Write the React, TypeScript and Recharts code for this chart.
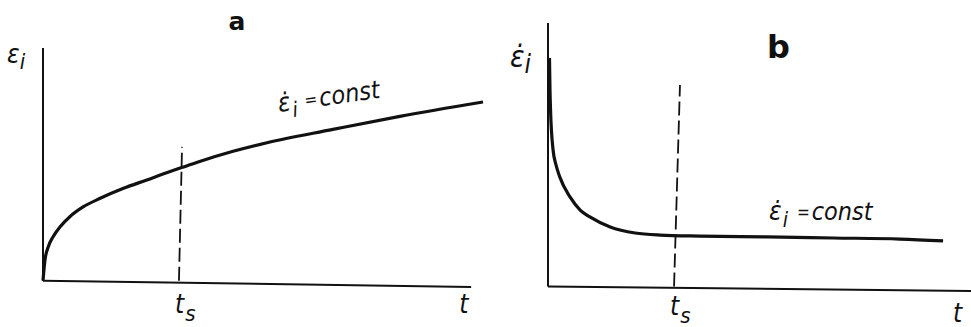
import { Line, LineChart, ReferenceLine, XAxis, YAxis } from 'recharts';

// Panel a: strain vs time (creep curve)
const A_TIME = [0, 0.45, 1.2, 2.3, 3.9, 6.1, 9.2, 13, 18.3, 23.6, 28.1, 31.5, 34.9, 43.2, 50.9, 65.9, 81.1, 100];
const A_STRAIN = [0, 8.9, 14.6, 18.9, 23.2, 27.5, 31.8, 35.4, 39.7, 43.3, 46.4, 48.6, 50.8, 55.6, 59.3, 65.0, 70.6, 76.8];

// Panel b: strain rate vs time
const B_TIME = [0.35, 0.47, 0.6, 1.2, 1.9, 2.8, 5.2, 7.6, 9.9, 14.7, 20.6, 26.5, 35.9, 51.8, 67.4, 83.2, 93.4];
const B_RATE = [86.7, 74.6, 67.0, 51.8, 46.1, 41.5, 34.0, 29.0, 26.4, 22.6, 20.3, 19.5, 19.1, 18.8, 18.4, 18.0, 17.3];

// tick positions on the time axis: t_s and t
const A_TICKS = [30.9, 95.5];
const B_TICKS = [29.8, 97.9];
const TICK_LABELS = ['ts', 't'];

// dashed t_s marker (bottom, top)
const A_TS_LINE = [{ x: 30.9, y: 0 }, { x: 31.6, y: 57.5 }];
const B_TS_LINE = [{ x: 29.8, y: 0 }, { x: 31.2, y: 76.5 }];

// axis ends (the scan is a little tilted)
const A_X_AXIS = [{ x: 0, y: 0 }, { x: 97.3, y: -2.7 }];
const B_X_AXIS = [{ x: 0, y: 0 }, { x: 100, y: -1.7 }];
const Y_AXIS = [{ x: 0, y: 0 }, { x: 0, y: 100 }];

const aData = A_TIME.map((t, i) => ({ t, v: A_STRAIN[i] }));
const bData = B_TIME.map((t, i) => ({ t, v: B_RATE[i] }));

const INK = '#111';
const MATH = "'DejaVu Sans Condensed', 'DejaVu Sans', sans-serif";
const TITLE = "'DejaVu Sans', sans-serif";

function makeTick(offsets: number[]) {
  return function TimeTick(props: any) {
    const { x, y, index } = props;
    const label = TICK_LABELS[index];
    return (
      <text x={x - 4} y={y + offsets[index]} fontFamily={MATH} fontStyle="italic" fontSize={26} fill={INK}>
        t
        {label === 'ts' && (
          <tspan dx={1} dy={8} fontSize={22}>
            s
          </tspan>
        )}
      </text>
    );
  };
}

const ATick = makeTick([15, 15]);
const BTick = makeTick([10, 17]);

function StrainLabel({ x, y, dot, size }: { x: number; y: number; dot: boolean; size: number }) {
  return (
    <text x={x} y={y} fontFamily={MATH} fontStyle="italic" fontSize={size} fill={INK}>
      {dot ? 'ε\u0307' : 'ε'}
      <tspan dy={6} fontSize={size - 4}>
        i
      </tspan>
    </text>
  );
}

function ConstLabel({ x, y, rotate, gap }: { x: number; y: number; rotate: number; gap: number }) {
  return (
    <text
      x={x}
      y={y}
      transform={`rotate(${rotate} ${x} ${y})`}
      fontFamily={MATH}
      fontStyle="italic"
      fontSize={26}
      fill={INK}
    >
      {'ε\u0307'}
      <tspan dx={1} dy={7} fontSize={21}>
        i
      </tspan>
      <tspan dx={gap} dy={-9} fontSize={17}>
        =
      </tspan>
      <tspan dx={2} dy={2} fontSize={25}>
        const
      </tspan>
    </text>
  );
}

export default function App() {
  return (
    <div style={{ position: 'absolute', left: 0, top: 0, width: 971, height: 327, background: '#fff' }}>
      <div style={{ position: 'absolute', left: 0, top: 0 }}>
        <LineChart width={490} height={327} data={aData} margin={{ top: 48, right: 7, bottom: 7, left: 43 }}>
          <XAxis
            type="number"
            dataKey="t"
            domain={[0, 100]}
            ticks={A_TICKS}
            height={30}
            axisLine={false}
            tickLine={false}
            tick={<ATick />}
          />
          <YAxis type="number" domain={[-4, 100]} width={0} axisLine={false} tickLine={false} tick={false} />
          <ReferenceLine segment={Y_AXIS} stroke={INK} strokeWidth={2} />
          <ReferenceLine segment={A_X_AXIS} stroke={INK} strokeWidth={2} />
          <ReferenceLine segment={A_TS_LINE} stroke={INK} strokeWidth={1.8} strokeDasharray="14 5" />
          <Line
            type="monotone"
            dataKey="v"
            stroke={INK}
            strokeWidth={3.2}
            dot={false}
            isAnimationActive={false}
          />
          <text x={237} y={30} textAnchor="middle" fontFamily={TITLE} fontWeight="bold" fontSize={25} fill={INK}>
            a
          </text>
          <StrainLabel x={7} y={63} dot={false} size={26} />
          <ConstLabel x={279} y={112} rotate={-8} gap={8} />
        </LineChart>
      </div>
      <div style={{ position: 'absolute', left: 490, top: 0 }}>
        <LineChart width={481} height={327} data={bData} margin={{ top: 23, right: 0, bottom: 0, left: 58 }}>
          <XAxis
            type="number"
            dataKey="t"
            domain={[0, 100]}
            ticks={B_TICKS}
            height={30}
            axisLine={false}
            tickLine={false}
            tick={<BTick />}
          />
          <YAxis type="number" domain={[-4, 100]} width={0} axisLine={false} tickLine={false} tick={false} />
          <ReferenceLine segment={Y_AXIS} stroke={INK} strokeWidth={2} />
          <ReferenceLine segment={B_X_AXIS} stroke={INK} strokeWidth={2} />
          <ReferenceLine segment={B_TS_LINE} stroke={INK} strokeWidth={1.8} strokeDasharray="14 5" />
          <Line
            type="monotone"
            dataKey="v"
            stroke={INK}
            strokeWidth={3.2}
            dot={false}
            isAnimationActive={false}
          />
          <text x={277} y={58} fontFamily={TITLE} fontWeight="bold" fontSize={32} fill={INK}>
            b
          </text>
          <StrainLabel x={20} y={67} dot={true} size={30} />
          <ConstLabel x={279} y={220} rotate={0} gap={9} />
        </LineChart>
      </div>
    </div>
  );
}
